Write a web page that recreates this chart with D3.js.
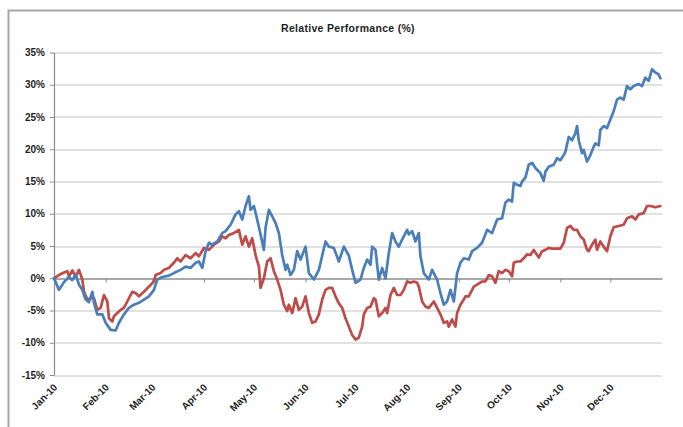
<!DOCTYPE html>
<meta charset="utf-8">
<style>

body {
  margin: 0;
  background: #fff;
}

text {
  font-family: "Liberation Sans", Arial, sans-serif;
  font-weight: bold;
  fill: #1e1e1e;
}

.title {
  font-size: 10.5px;
  letter-spacing: 0.3px;
}

.axis--y text,
.month-label {
  font-size: 10px;
}

.axis--y path,
.axis--y line,
.axis--x path,
.axis--x line {
  stroke: #8c8c8c;
}

.grid line {
  stroke: #c4c4c4;
  stroke-width: 1;
}

.line {
  fill: none;
  stroke-width: 2.7;
  stroke-linejoin: round;
  stroke-linecap: round;
}

</style>
<svg width="683" height="427"></svg>
<script src="https://d3js.org/d3.v7.min.js"></script>
<script>

// blue series (daily closes, year 2010)
var blueDates = [
  "01-01","01-04","01-07","01-10","01-12","01-14","01-16","01-18","01-20","01-22","01-24","01-25","01-27","01-30",
  "02-01","02-04","02-07","02-09","02-12","02-15","02-18","02-21","02-24","02-27",
  "03-02","03-04","03-07","03-11","03-14","03-18","03-21","03-24","03-27","03-29","03-31",
  "04-02","04-04","04-06","04-09","04-12","04-14","04-17","04-20","04-22","04-24","04-26","04-28","04-29",
  "05-01","05-03","05-05","05-07","05-08","05-10","05-12","05-14","05-16","05-18","05-20","05-21","05-23","05-25","05-27","05-29",
  "06-01","06-03","06-06","06-09","06-13","06-15","06-18","06-21","06-24","06-27","06-29",
  "07-01","07-04","07-06","07-08","07-10","07-11","07-13","07-15","07-17","07-19","07-21","07-23","07-25","07-27","07-29",
  "08-01","08-02","08-04","08-06","08-08","08-09","08-11","08-14","08-16","08-19","08-21","08-23","08-25","08-27","08-29","08-31",
  "09-02","09-04","09-07","09-09","09-12","09-15","09-18","09-21","09-24","09-27","09-29",
  "10-01","10-03","10-04","10-06","10-08","10-09","10-11","10-13","10-15","10-17","10-20","10-22","10-23","10-25","10-28","10-30",
  "11-01","11-03","11-04","11-06","11-08","11-10","11-11","11-12","11-14","11-15","11-17","11-19","11-21","11-22","11-24","11-25","11-27","11-29",
  "12-01","12-03","12-05","12-07","12-09","12-11","12-13","12-15","12-18","12-20","12-22","12-24","12-26","12-28","12-30","12-31"
];
var blueValues = [
  0.0,-1.8,-0.6,0.2,-0.3,0.6,-1.0,-1.8,-3.3,-3.7,-2.1,-3.8,-5.6,-5.6,
  -6.9,-8.0,-8.1,-6.9,-5.6,-4.6,-4.1,-3.8,-3.3,-2.8,
  -1.8,-0.2,0.2,0.4,0.8,1.3,1.8,1.6,2.4,2.6,1.6,
  4.2,5.5,5.2,5.7,7.0,7.3,8.3,9.9,10.4,9.1,11.2,12.7,10.6,
  11.2,9.1,6.8,4.4,7.8,10.6,9.6,8.6,7.0,3.6,1.3,2.1,0.5,1.3,4.2,2.9,
  4.9,0.8,-0.2,1.3,5.7,4.9,4.7,2.6,4.9,3.5,1.3,
  -0.7,-0.2,1.6,2.9,2.1,4.9,4.4,-0.2,1.6,0.0,3.9,7.0,5.7,4.9,6.0,
  7.5,6.8,7.3,5.7,7.0,3.4,0.8,-0.2,1.3,-0.2,-2.3,-4.1,-3.6,-1.8,-3.6,0.8,
  2.4,3.1,2.9,4.2,4.7,5.5,7.5,7.0,9.1,9.3,11.7,
  12.2,11.9,14.8,14.5,14.3,15.0,15.6,17.6,17.9,17.1,16.3,15.1,16.5,17.3,17.6,18.6,
  18.3,19.1,19.6,21.9,21.4,22.5,23.6,21.4,19.4,19.9,18.1,19.1,20.4,20.9,20.6,23.0,23.6,23.3,
  24.6,25.9,27.7,28.0,27.7,29.8,29.3,29.8,30.1,29.8,31.1,30.6,32.4,31.9,31.6,31.0
];

// red series
var redDates = [
  "01-01","01-04","01-07","01-09","01-10","01-12","01-14","01-16","01-18","01-19","01-21","01-23","01-25","01-27","01-29","01-31",
  "02-02","02-03","02-05","02-06","02-08","02-10","02-12","02-15","02-17","02-19","02-21","02-24","02-27",
  "03-02","03-03","03-06","03-08","03-11","03-14","03-16","03-18","03-21","03-24","03-27","03-29",
  "04-01","04-04","04-07","04-10","04-12","04-14","04-16","04-19","04-22","04-24","04-26","04-28","04-30",
  "05-02","05-04","05-05","05-07","05-09","05-11","05-13","05-15","05-17","05-19","05-21","05-22","05-24","05-26","05-28","05-30",
  "06-01","06-03","06-05","06-07","06-09","06-11","06-13","06-15","06-17","06-19","06-21","06-23","06-25","06-27","06-29",
  "07-01","07-03","07-05","07-06","07-08","07-10","07-12","07-13","07-15","07-17","07-19","07-20","07-22","07-24","07-26","07-28","07-30",
  "08-01","08-03","08-05","08-07","08-08","08-10","08-12","08-14","08-17","08-19","08-21","08-23","08-25","08-26","08-28","08-30","08-31",
  "09-02","09-04","09-05","09-07","09-10","09-12","09-15","09-17","09-19","09-21","09-23","09-25","09-27","09-29",
  "10-01","10-03","10-04","10-06","10-08","10-10","10-12","10-14","10-16","10-18","10-19","10-21","10-23","10-25","10-27","10-30",
  "11-01","11-03","11-05","11-07","11-09","11-11","11-13","11-15","11-17","11-18","11-20","11-22","11-23","11-25","11-27","11-29",
  "12-01","12-03","12-06","12-09","12-11","12-14","12-16","12-18","12-21","12-23","12-25","12-28","12-31"
];
var redValues = [
  0.0,0.5,0.9,1.1,0.3,1.2,0.3,1.3,-0.2,-2.1,-3.3,-3.1,-3.1,-4.9,-4.6,-2.6,
  -3.6,-6.2,-6.7,-5.9,-5.4,-4.9,-4.6,-3.1,-2.1,-2.3,-2.8,-2.1,-1.3,
  -0.5,0.5,0.8,1.3,1.6,2.4,3.1,2.6,3.6,3.1,3.9,3.4,
  4.7,4.4,5.2,5.7,6.5,6.2,6.7,7.0,7.5,5.2,6.5,4.9,6.2,
  3.6,1.8,-1.5,0.0,2.6,3.1,1.1,-0.2,-1.8,-4.1,-5.1,-4.1,-5.4,-3.1,-4.9,-4.4,
  -2.8,-5.4,-6.9,-6.7,-5.6,-3.3,-1.8,-1.5,-1.5,-2.8,-3.9,-4.6,-6.2,-7.5,-8.8,
  -9.5,-9.2,-7.5,-5.6,-4.6,-4.4,-3.1,-3.3,-5.9,-5.4,-4.6,-5.4,-2.6,-1.5,-2.6,-2.6,-1.8,
  -0.5,-0.7,-0.5,-0.7,-1.3,-3.6,-4.4,-4.6,-3.6,-4.6,-5.6,-6.9,-6.7,-7.5,-6.4,-7.5,-5.4,
  -4.1,-3.3,-2.8,-2.8,-1.3,-1.0,-0.5,-0.5,0.5,0.3,-0.7,1.1,0.8,1.3,
  1.1,0.3,2.4,2.6,2.6,3.1,3.7,3.6,4.4,3.6,3.2,4.2,4.4,4.7,4.6,4.6,
  4.6,5.5,7.8,8.1,7.5,7.5,6.5,6.0,4.4,4.2,5.2,6.0,4.4,5.7,4.9,4.2,
  6.5,7.9,8.1,8.3,9.3,9.6,9.1,9.9,10.1,11.2,11.2,11.0,11.2
];

var yTicks = [-15, -10, -5, 0, 5, 10, 15, 20, 25, 30, 35];

var svg = d3.select("svg"),
    margin = {top: 52.5, right: 21, bottom: 52, left: 54},
    width = +svg.attr("width") - margin.left - margin.right,
    height = +svg.attr("height") - margin.top - margin.bottom;

var parseDate = d3.timeParse("%Y-%m-%d");

function series(dates, values) {
  return dates.map(function(d, i) { return {date: parseDate("2010-" + d), value: values[i]}; });
}

var blue = series(blueDates, blueValues),
    red = series(redDates, redValues);

var x = d3.scaleTime()
    .domain([new Date(2010, 0, 1), new Date(2011, 0, 1)])
    .range([0, width]);

var y = d3.scaleLinear()
    .domain([-15, 35])
    .range([height, 0]);

// outer chart frame
svg.append("rect")
    .attr("x", 8.5)
    .attr("y", 10.5)
    .attr("width", 700)
    .attr("height", 500)
    .attr("fill", "none")
    .attr("stroke", "#a6a6a6")
    .attr("stroke-width", 2);

svg.append("text")
    .attr("class", "title")
    .attr("x", 348)
    .attr("y", 32)
    .attr("text-anchor", "middle")
    .text("Relative Performance (%)");

var g = svg.append("g")
    .attr("transform", "translate(" + margin.left + "," + margin.top + ")");

g.append("g")
    .attr("class", "grid")
  .selectAll("line")
  .data(yTicks.filter(function(d) { return d !== 0; }))
  .enter().append("line")
    .attr("x1", 0)
    .attr("x2", width)
    .attr("y1", function(d) { return Math.round(y(d)) + 0.5; })
    .attr("y2", function(d) { return Math.round(y(d)) + 0.5; });

g.append("g")
    .attr("class", "axis axis--y")
    .call(d3.axisLeft(y).tickValues(yTicks).tickSize(4).tickSizeOuter(0).tickPadding(5)
      .tickFormat(function(d) { return d + "%"; }))
    .call(function(a) { a.select(".domain").attr("stroke-width", 1.2); });

var months = d3.timeMonth.range(new Date(2010, 0, 1), new Date(2011, 0, 1));

g.append("g")
    .attr("class", "axis axis--x")
    .attr("transform", "translate(0," + Math.round(y(0)) + ")")
    .call(d3.axisBottom(x).tickValues(months).tickSize(4).tickSizeOuter(0).tickFormat(""))
    .call(function(a) { a.select(".domain").attr("stroke-width", 1.4); });

g.selectAll(".month-label")
  .data(months)
  .enter().append("text")
    .attr("class", "month-label")
    .attr("text-anchor", "end")
    .attr("transform", function(d) { return "translate(" + (x(d) + 4) + "," + (height + 13) + ") rotate(-45)"; })
    .text(d3.timeFormat("%b-%y"));

var line = d3.line()
    .x(function(d) { return x(d.date); })
    .y(function(d) { return y(d.value); });

g.append("path")
    .datum(red)
    .attr("class", "line")
    .attr("stroke", "#be4b48")
    .attr("d", line);

g.append("path")
    .datum(blue)
    .attr("class", "line")
    .attr("stroke", "#4a7ebb")
    .attr("d", line);

</script>
